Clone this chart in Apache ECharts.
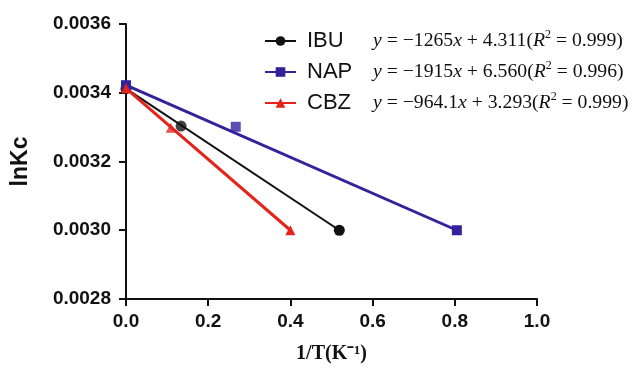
<!DOCTYPE html>
<html><head><meta charset="utf-8">
<script src="https://cdn.jsdelivr.net/npm/echarts@6/dist/echarts.min.js"></script>
<style>html,body{margin:0;padding:0;background:#fff}#c{width:632px;height:369px}</style>
</head><body><div id="c"></div>
<script>
const names = ['IBU', 'NAP', 'CBZ'];
const colors = ['#111111', '#33229c', '#e5231b'];
const symbols = ['circle', 'rect', 'triangle'];
const ibuX = [0.0, 0.134, 0.519];
const ibuY = [0.003412, 0.003303, 0.0030];
const napX = [0.0, 0.267, 0.805];
const napY = [0.003422, 0.003301, 0.0030];
const cbzX = [0.0, 0.109, 0.40];
const cbzY = [0.003413, 0.003298, 0.0030];
const slopes = ['\u22121265', '\u22121915', '\u2212964.1'];
const intercepts = ['4.311', '6.560', '3.293'];
const r2 = ['0.999', '0.996', '0.999'];
const xMin = 0, xMax = 1.0, xStep = 0.2;
const yMin = 0.0028, yMax = 0.0036, yStep = 0.0002;

const xs = [ibuX, napX, cbzX], ys = [ibuY, napY, cbzY];
const series = [];
[1, 0, 2].forEach(k => {
  const X = xs[k], Y = ys[k];
  series.push({
    name: names[k], type: 'line', clip: false,
    data: [[X[0], Y[0]], [X[2], Y[2]]],
    symbol: symbols[k], symbolSize: k === 0 ? 11 : 10,
    itemStyle: { color: colors[k] },
    lineStyle: { color: colors[k], width: k === 0 ? 2 : 3 },
    z: 2 + k
  });
  series.push({
    name: names[k] + '_pt', type: 'scatter', clip: false,
    data: [[X[1], Y[1]]],
    symbol: symbols[k], symbolSize: k === 0 ? 11 : 10,
    itemStyle: { color: colors[k] }, z: 3 + k
  });
});

const serif = 'Liberation Serif, Times New Roman, serif';
const sans = 'Liberation Sans, Arial';
const chart = echarts.init(document.getElementById('c'));
chart.setOption({
  animation: false,
  backgroundColor: '#fff',
  grid: { left: 126, right: 95, top: 24, bottom: 70 },
  legend: {
    data: names, orient: 'vertical', left: 259, top: 24,
    itemWidth: 31, itemHeight: 12, itemGap: 8,
    formatter: function (n) {
      const i = names.indexOf(n);
      return '{n|' + n + '}{i|y}{r| = ' + slopes[i] + '}{i|x}{r| + ' + intercepts[i] + '(}{i|R}{s|2}{r| = ' + r2[i] + ')}';
    },
    textStyle: {
      rich: {
        n: { fontFamily: sans, fontSize: 22, color: '#111', width: 66, padding: [0, 0, 0, 6], lineHeight: 24 },
        i: { fontFamily: serif, fontStyle: 'italic', fontSize: 19.7, color: '#111', lineHeight: 24 },
        r: { fontFamily: serif, fontSize: 19.7, color: '#111', lineHeight: 24 },
        s: { fontFamily: serif, fontSize: 12, color: '#111', verticalAlign: 'top', lineHeight: 24 }
      }
    }
  },
  xAxis: {
    type: 'value', min: xMin, max: xMax, interval: xStep,
    name: '1/T(K\u207B\u00B9)', nameLocation: 'middle', nameGap: 45,
    nameTextStyle: { fontFamily: serif, fontWeight: 'bold', fontSize: 20, color: '#111' },
    axisLine: { lineStyle: { color: '#111', width: 2 } },
    axisTick: { show: true, length: 7, lineStyle: { color: '#111', width: 2 } },
    axisLabel: { fontFamily: sans, fontWeight: 'bold', fontSize: 19, color: '#111', margin: 13, formatter: v => v.toFixed(1) },
    splitLine: { show: false }
  },
  yAxis: {
    type: 'value', min: yMin, max: yMax, interval: yStep,
    name: 'lnKc', nameLocation: 'middle', nameGap: 94, nameRotate: 90,
    nameTextStyle: { fontFamily: sans, fontWeight: 'bold', fontSize: 23, color: '#111' },
    axisLine: { show: true, lineStyle: { color: '#111', width: 2 } },
    axisTick: { show: true, length: 7, lineStyle: { color: '#111', width: 2 } },
    axisLabel: { fontFamily: sans, fontWeight: 'bold', fontSize: 19, color: '#111', margin: 15, formatter: v => v.toFixed(4) },
    splitLine: { show: false }
  },
  series: series
});
</script></body></html>
